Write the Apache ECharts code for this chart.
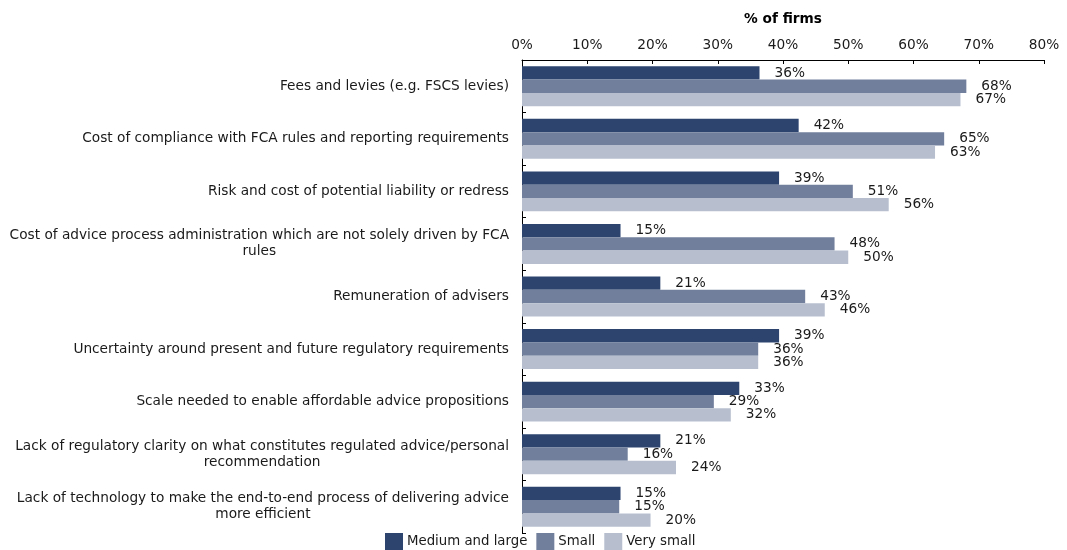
<!DOCTYPE html>
<html>
<head>
<meta charset="utf-8">
<script src="https://cdn.jsdelivr.net/npm/echarts@6/dist/echarts.min.js"></script>
<style>
  html, body { margin: 0; padding: 0; background: #fff; }
  #chart { width: 1067px; height: 550px; }
</style>
</head>
<body>
<div id="chart"></div>
<script>
const categories = [
  'Fees and levies (e.g. FSCS levies)',
  'Cost of compliance with FCA rules and reporting requirements',
  'Risk and cost of potential liability or redress',
  'Cost of advice process administration which are not solely driven by FCA rules',
  'Remuneration of advisers',
  'Uncertainty around present and future regulatory requirements',
  'Scale needed to enable affordable advice propositions',
  'Lack of regulatory clarity on what constitutes regulated advice/personal recommendation',
  'Lack of technology to make the end-to-end process of delivering advice more efficient'
];
const mediumLarge = [36.4, 42.4, 39.4, 15.1, 21.2, 39.4, 33.3, 21.2, 15.1];
const small = [68.1, 64.7, 50.7, 47.9, 43.4, 36.2, 29.4, 16.2, 14.9];
const verySmall = [67.2, 63.3, 56.2, 50.0, 46.4, 36.2, 32.0, 23.6, 19.7];
const seriesNames = ['Medium and large', 'Small', 'Very small'];
const colors = ['#2d446e', '#717f9c', '#b7bfcf'];

const font = "'DejaVu Sans', Verdana, sans-serif";
const fontSize = 13.7;
const textColor = '#1a1a1a';

// wrap long category names, lines are centred inside the right-aligned block
const measureCtx = document.createElement('canvas').getContext('2d');
function wrapLabel (text, maxWidth) {
  measureCtx.font = fontSize + 'px ' + font;
  const words = text.split(' ');
  const lines = [];
  let line = '';
  words.forEach(function (w) {
    const test = line ? line + ' ' + w : w;
    if (line && measureCtx.measureText(test).width > maxWidth) {
      lines.push(line);
      line = w;
    } else {
      line = test;
    }
  });
  if (line) lines.push(line);
  return lines;
}

const chart = echarts.init(document.getElementById('chart'));

function makeSeries (name, data, color) {
  return {
    name: name,
    type: 'bar',
    data: data,
    barGap: '0%',
    barCategoryGap: '24%',
    itemStyle: { color: color },
    label: {
      show: true,
      position: 'right',
      distance: 15,
      color: textColor,
      fontFamily: font,
      fontSize: fontSize,
      formatter: function (p) { return Math.round(p.value) + '%'; }
    }
  };
}

chart.setOption({
  animation: false,
  textStyle: { fontFamily: font },
  grid: { left: 522, right: 23, top: 60, bottom: 17 },
  legend: {
    data: seriesNames,
    top: 533,
    left: 385,
    padding: 0,
    itemWidth: 18,
    itemHeight: 17,
    itemGap: 9,
    icon: 'rect',
    textStyle: { fontFamily: font, fontSize: 13.3, color: textColor, padding: [0, 0, 0, -1] }
  },
  xAxis: {
    type: 'value',
    position: 'top',
    min: 0,
    max: 80,
    interval: 10,
    name: '% of firms',
    nameLocation: 'middle',
    nameGap: 34,
    nameTextStyle: { fontFamily: font, fontSize: fontSize, fontWeight: 'bold', color: '#000' },
    axisLine: { show: true, lineStyle: { color: '#000', width: 1 } },
    axisTick: { show: true, inside: true, length: 4, lineStyle: { color: '#000' } },
    axisLabel: { formatter: '{value}%', margin: 8, fontFamily: font, fontSize: fontSize, color: textColor },
    splitLine: { show: false }
  },
  yAxis: {
    type: 'category',
    inverse: true,
    data: categories,
    axisLine: { show: true, lineStyle: { color: '#000', width: 1 } },
    axisTick: { show: true, inside: true, length: 4, lineStyle: { color: '#000' } },
    axisLabel: {
      margin: 13,
      align: 'right',
      formatter: function (v) {
        return wrapLabel(v, 505).map(function (l) { return '{c|' + l + '}'; }).join('\n');
      },
      rich: {
        c: { align: 'center', fontFamily: font, fontSize: fontSize, color: textColor, lineHeight: 16 }
      }
    }
  },
  series: [
    makeSeries(seriesNames[0], mediumLarge, colors[0]),
    makeSeries(seriesNames[1], small, colors[1]),
    makeSeries(seriesNames[2], verySmall, colors[2])
  ]
});
</script>
</body>
</html>
